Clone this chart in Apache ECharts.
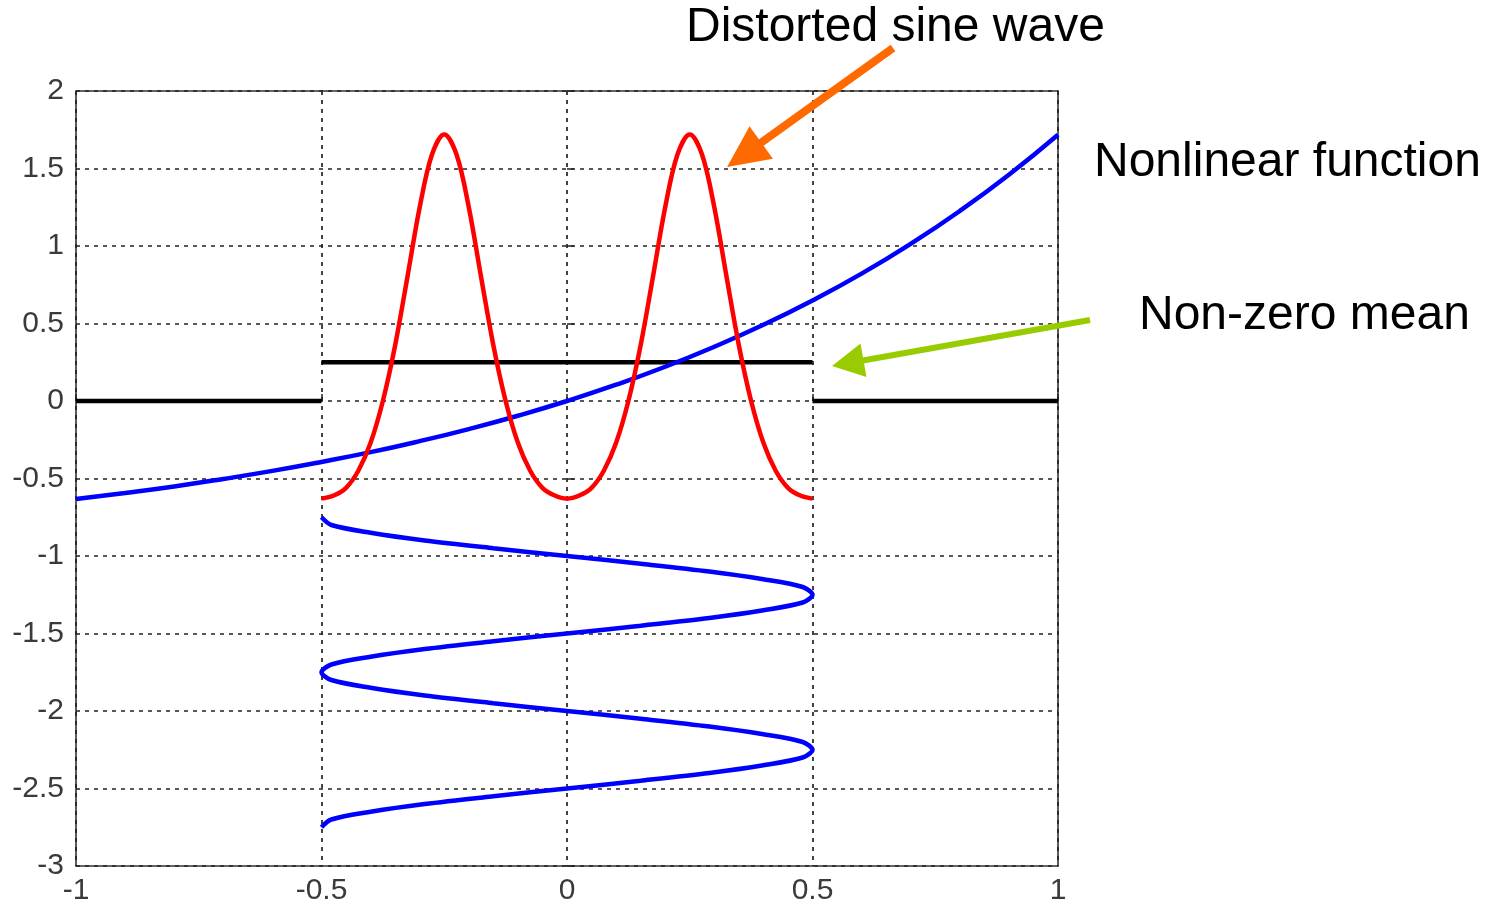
<!DOCTYPE html>
<html><head><meta charset="utf-8">
<script src="https://cdn.jsdelivr.net/npm/echarts@6/dist/echarts.min.js"></script>
<style>html,body{margin:0;padding:0;background:#fff}#c{width:1492px;height:906px}</style>
</head><body><div id="c"></div>
<script>
// ---- data ----
const nonlinearX = [-1,-0.9,-0.8,-0.7,-0.6,-0.5,-0.4,-0.3,-0.2,-0.1,0,0.1,0.2,0.3,0.4,0.5,0.6,0.7,0.8,0.9,1];
const nonlinearY = [-0.632,-0.593,-0.551,-0.503,-0.451,-0.393,-0.330,-0.259,-0.181,-0.095,0,0.105,0.221,0.350,0.492,0.649,0.822,1.014,1.226,1.460,1.718];

const distortedX = [-0.5,-0.475,-0.45,-0.425,-0.4,-0.375,-0.35,-0.325,-0.3,-0.275,-0.25,-0.225,-0.2,-0.175,-0.15,-0.125,-0.1,-0.075,-0.05,-0.025,0,
                    0.025,0.05,0.075,0.1,0.125,0.15,0.175,0.2,0.225,0.25,0.275,0.3,0.325,0.35,0.375,0.4,0.425,0.45,0.475,0.5];
const distortedY = [-0.63,-0.61,-0.56,-0.45,-0.27,0,0.36,0.80,1.25,1.59,1.72,1.59,1.25,0.80,0.36,0,-0.27,-0.45,-0.56,-0.61,-0.63,
                    -0.61,-0.56,-0.45,-0.27,0,0.36,0.80,1.25,1.59,1.72,1.59,1.25,0.80,0.36,0,-0.27,-0.45,-0.56,-0.61,-0.63];

const sineY = [-0.75,-0.8,-0.85,-0.9,-0.95,-1,-1.05,-1.1,-1.15,-1.2,-1.25,-1.3,-1.35,-1.4,-1.45,-1.5,-1.55,-1.6,-1.65,-1.7,-1.75,
               -1.8,-1.85,-1.9,-1.95,-2,-2.05,-2.1,-2.15,-2.2,-2.25,-2.3,-2.35,-2.4,-2.45,-2.5,-2.55,-2.6,-2.65,-2.7,-2.75];
const sineX = [-0.5,-0.48,-0.40,-0.29,-0.15,0,0.15,0.29,0.40,0.48,0.5,0.48,0.40,0.29,0.15,0,-0.15,-0.29,-0.40,-0.48,-0.5,
               -0.48,-0.40,-0.29,-0.15,0,0.15,0.29,0.40,0.48,0.5,0.48,0.40,0.29,0.15,0,-0.15,-0.29,-0.40,-0.48,-0.5];

const meanStartX = [-1,-0.5,0.5];
const meanEndX = [-0.5,0.5,1];
const meanLevel = [0,0.25,0];

const xRange = [-1, 1];
const yRange = [-3, 2];
const tickStep = 0.5;

const annotations = [
  {text: 'Distorted sine wave', x: 686, y: 28},
  {text: 'Nonlinear function', x: 1094, y: 163},
  {text: 'Non-zero mean', x: 1139, y: 316}
];
// arrows: tail and tip in data units
const arrowTail = [[0.664, 2.277],[1.0652, 0.523]];
const arrowTip = [[0.326, 1.51],[0.5397, 0.226]];
const arrowColor = ['#ff6a00','#99cc00'];

// ---- chart ----
const chart = echarts.init(document.getElementById('c'), null, {renderer: 'canvas'});
const pairs = (xs, ys) => xs.map((x, i) => [x, ys[i]]);
const FONT = "'Liberation Sans', Arial, sans-serif";

const series = [];
meanLevel.forEach((lv, i) => {
  series.push({type: 'line', data: [[meanStartX[i], lv], [meanEndX[i], lv]], symbol: 'none',
    lineStyle: {color: '#000', width: 4.5}, z: 3, animation: false});
});
series.push({type: 'line', data: pairs(nonlinearX, nonlinearY), symbol: 'none', smooth: true,
  lineStyle: {color: '#0000ff', width: 4.5}, z: 4, animation: false});
series.push({type: 'line', data: pairs(sineX, sineY), symbol: 'none', smooth: 0.3,
  lineStyle: {color: '#0000ff', width: 4.5}, z: 4, animation: false});
series.push({type: 'line', data: pairs(distortedX, distortedY), symbol: 'none', smooth: 0.35,
  lineStyle: {color: '#ff0000', width: 4.5}, z: 5, animation: false});

const axisCommon = {
  type: 'value', interval: tickStep,
  axisLine: {show: false},
  axisTick: {show: true, inside: true, length: 7, lineStyle: {color: '#222', width: 1.5}},
  splitLine: {show: true, lineStyle: {color: '#222', width: 1.7, type: [4, 5]}},
  axisLabel: {fontFamily: FONT, fontSize: 30, color: '#3a3a3a'}
};

chart.setOption({
  animation: false,
  backgroundColor: '#fff',
  grid: {left: 76, right: 434, top: 91, bottom: 40, show: true, borderColor: '#333', borderWidth: 1.6, backgroundColor: 'transparent'},
  xAxis: Object.assign({}, axisCommon, {min: xRange[0], max: xRange[1],
    axisLabel: Object.assign({}, axisCommon.axisLabel, {margin: 10})}),
  yAxis: Object.assign({}, axisCommon, {min: yRange[0], max: yRange[1],
    axisLabel: Object.assign({}, axisCommon.axisLabel, {margin: 12})}),
  series: series
});

function arrowGraphics(tail, tip, shaftW, headLen, headW, color) {
  const dx = tip[0] - tail[0], dy = tip[1] - tail[1];
  const L = Math.hypot(dx, dy);
  const ux = dx / L, uy = dy / L, nx = -uy, ny = ux;
  const bx = tip[0] - ux * headLen, by = tip[1] - uy * headLen;
  return [
    {type: 'line', shape: {x1: tail[0], y1: tail[1], x2: bx + ux * 2, y2: by + uy * 2},
      style: {stroke: color, lineWidth: shaftW}, z: 10},
    {type: 'polygon', shape: {points: [[tip[0], tip[1]], [bx + nx * headW / 2, by + ny * headW / 2], [bx - nx * headW / 2, by - ny * headW / 2]]},
      style: {fill: color}, z: 10}
  ];
}

const graphics = [];
annotations.forEach(a => {
  graphics.push({type: 'text', x: a.x, y: a.y, z: 10,
    style: {text: a.text, font: "48px " + FONT, fill: '#000', textVerticalAlign: 'middle', textAlign: 'left'}});
});
const sizes = [[8, 42, 40], [6, 32, 34]];
arrowTail.forEach((t, i) => {
  const p0 = chart.convertToPixel({gridIndex: 0}, t);
  const p1 = chart.convertToPixel({gridIndex: 0}, arrowTip[i]);
  graphics.push(...arrowGraphics(p0, p1, sizes[i][0], sizes[i][1], sizes[i][2], arrowColor[i]));
});
chart.setOption({graphic: graphics});
</script>
</body></html>
